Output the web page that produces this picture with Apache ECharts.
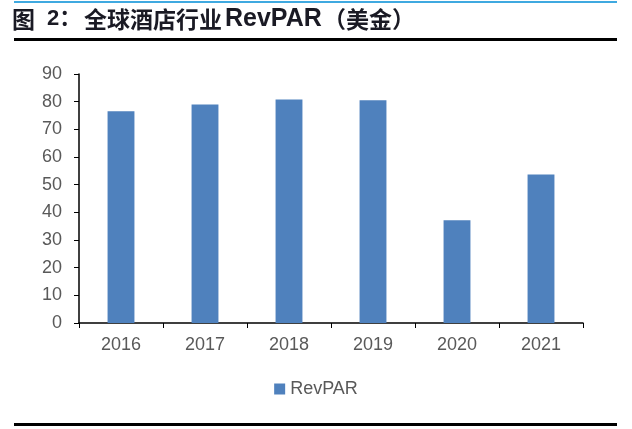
<!DOCTYPE html>
<html><head><meta charset="utf-8">
<script src="https://cdn.jsdelivr.net/npm/echarts@6/dist/echarts.min.js"></script>
<style>html,body{margin:0;padding:0;background:#fff}#c{width:632px;height:429px}</style>
</head><body><div id="c"></div>
<script>
var categories = ['2016','2017','2018','2019','2020','2021'];
var revpar = [76.5, 79.0, 80.8, 80.5, 37.1, 53.7];
var yTicks = [0,10,20,30,40,50,60,70,80,90];
var titleParts = ['图', '2：', '全球酒店行业', 'RevPAR', '（美金）'];
var cjk = 'bold 23px "Noto Sans CJK SC", sans-serif';
var lat = 'bold 25px "Liberation Sans", Arial, sans-serif';
var tc = '#1a1a24';
var chart = echarts.init(document.getElementById('c'));
chart.setOption({
  animation:false,
  textStyle:{fontFamily:'Liberation Sans, Arial, sans-serif'},
  graphic:[
    {type:'rect',shape:{x:14,y:1,width:603,height:2},style:{fill:'#3fa9e0'}},
    {type:'text',x:12,y:19,style:{text:titleParts[0],font:cjk,fill:tc,verticalAlign:'middle'}},
    {type:'text',x:47,y:19,style:{text:titleParts[1],font:'bold 22px "Liberation Sans", "Noto Sans CJK SC", sans-serif',fill:tc,verticalAlign:'middle'}},
    {type:'text',x:84,y:19,style:{text:titleParts[2],font:cjk,fill:tc,verticalAlign:'middle'}},
    {type:'text',x:225,y:19,style:{text:titleParts[3],font:lat,fill:tc,verticalAlign:'middle'}},
    {type:'text',x:323,y:19,style:{text:titleParts[4],font:cjk,fill:tc,verticalAlign:'middle'}},
    {type:'rect',shape:{x:14,y:38,width:603,height:3},style:{fill:'#000'}},
    {type:'rect',shape:{x:14,y:423,width:603,height:3},style:{fill:'#000'}}
  ],
  grid:{left:79,right:49,top:74,bottom:106},
  legend:{data:['RevPAR'],left:'center',top:375,itemWidth:11,itemHeight:11,icon:'rect',
    textStyle:{fontSize:18,color:'#595959',fontFamily:'Liberation Sans, Arial, sans-serif'}},
  xAxis:{type:'category',data:categories,
    axisLine:{lineStyle:{color:'#000',width:1.5}},
    axisTick:{show:true,alignWithLabel:false,length:5,lineStyle:{color:'#000'}},
    axisLabel:{fontSize:18,color:'#595959',margin:13}},
  yAxis:{type:'value',min:0,max:90,interval:10,
    axisLine:{show:true,lineStyle:{color:'#000',width:1.5}},
    axisTick:{show:true,length:5,lineStyle:{color:'#000'}},
    splitLine:{show:false},
    axisLabel:{fontSize:18,color:'#595959',margin:17,
      formatter:function(v){return yTicks.indexOf(v)>=0?String(v):'';}}},
  series:[{name:'RevPAR',type:'bar',data:revpar,barWidth:'32%',
    itemStyle:{color:'#4f81bd'}}]
});
</script></body></html>
